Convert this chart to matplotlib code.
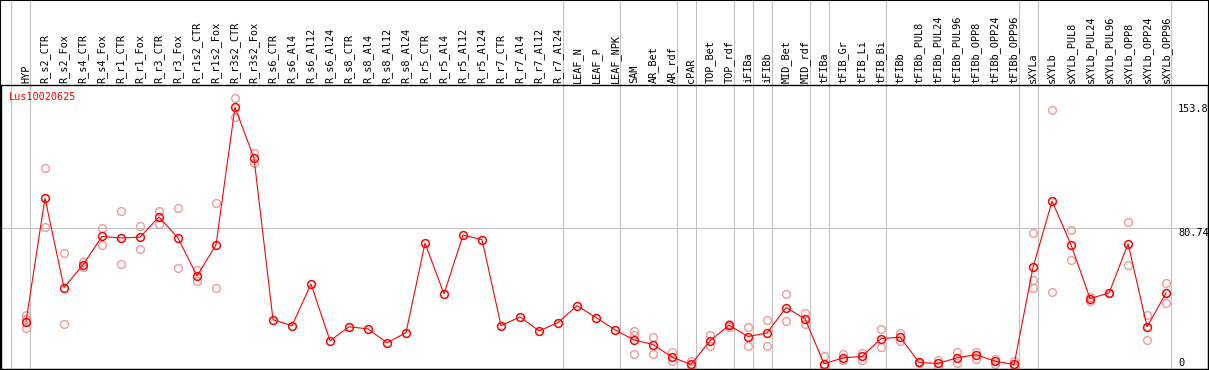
import matplotlib
matplotlib.use("Agg")
import matplotlib.pyplot as plt
from matplotlib.patches import Rectangle

# sample names (x axis, top)
samples = ["HYP", "R_s2_CTR", "R_s2_Fox", "R_s4_CTR", "R_s4_Fox", "R_r1_CTR", "R_r1_Fox",
           "R_r3_CTR", "R_r3_Fox", "R_r1s2_CTR", "R_r1s2_Fox", "R_r3s2_CTR", "R_r3s2_Fox",
           "R_s6_CTR", "R_s6_Al4", "R_s6_Al12", "R_s6_Al24", "R_s8_CTR", "R_s8_Al4",
           "R_s8_Al12", "R_s8_Al24", "R_r5_CTR", "R_r5_Al4", "R_r5_Al12", "R_r5_Al24",
           "R_r7_CTR", "R_r7_Al4", "R_r7_Al12", "R_r7_Al24", "LEAF_N", "LEAF_P", "LEAF_NPK",
           "SAM", "AR_Bet", "AR_rdf", "cPAR", "TOP_Bet", "TOP_rdf", "iFIBa", "iFIBb",
           "MID_Bet", "MID_rdf", "tFIBa", "tFIB_Gr", "tFIB_Li", "tFIB_Bi", "tFIBb",
           "tFIBb_PUL8", "tFIBb_PUL24", "tFIBb_PUL96", "tFIBb_OPP8", "tFIBb_OPP24",
           "tFIBb_OPP96", "sXYLa", "sXYLb", "sXYLb_PUL8", "sXYLb_PUL24", "sXYLb_PUL96",
           "sXYLb_OPP8", "sXYLb_OPP24", "sXYLb_OPP96"]

# mean expression per sample
means = [25.6, 98.2, 45.7, 59.0, 75.7, 74.8, 75.3, 87.1, 74.8, 52.5, 70.8, 151.5, 121.6,
         26.8, 23.4, 47.8, 14.5, 22.7, 21.5, 13.3, 19.3, 71.8, 42.0, 76.5, 73.8,
         23.4, 28.5, 20.3, 25.2, 35.1, 28.1, 20.9,
         15.0, 12.3, 4.9, 0.6, 14.5, 23.6, 17.0, 19.1, 34.0, 27.3,
         1.0, 4.5, 5.3, 15.8, 16.6, 1.8, 1.2, 4.5, 6.4, 2.5, 0.6,
         57.8, 96.4, 70.7, 39.2, 42.6, 71.4, 22.7, 42.6]

# individual replicates
reps = [[29.5, 27.5, 22.0], [115.7, 81.2], [66.0, 24.6], [61.0, 57.5], [80.6, 70.4],
        [90.7, 59.5], [82.0, 68.3], [90.7, 83.1], [92.3, 57.4], [55.8, 49.4],
        [95.3, 45.7], [156.7, 145.6], [124.5, 118.7],
        [], [], [], [], [], [], [], [], [], [], [], [], [], [], [], [], [], [], [],
        [20.5, 18.1, 6.8], [17.0, 6.8], [7.8, 2.9], [2.9, 0.0], [18.1, 11.5], [24.5, 22.5],
        [22.4, 11.5], [26.9, 11.5], [42.0, 26.2], [30.6, 24.4],
        [5.5, 0.0], [6.8, 3.3], [7.2, 3.3], [21.5, 10.9], [19.1, 14.5], [1.5, 2.0],
        [3.5, 0.0], [7.8, 1.6], [7.8, 4.1], [4.1, 1.0], [2.9, 0.0],
        [77.7, 49.9, 45.3], [149.7, 43.1], [79.4, 61.9], [40.4, 38.1], [42.6, 42.6],
        [84.1, 59.0], [29.9, 15.0], [48.4, 36.5]]

group_sizes = [1, 28, 3, 3, 1, 2, 1, 1, 2, 1, 3, 7, 1, 7]
ytick_vals = [0, 80.74, 153.8]
ytick_labels = ["0", "80.74", "153.8"]
gene = "Lus10020625"

W, H = 1209, 370
fig = plt.figure(figsize=(W / 100, H / 100), dpi=100)
ax = fig.add_axes([0.5 / W, 1.5 / H, 1207.5 / W, 283.5 / H])

x = list(range(len(samples)))
step = 19.01
ax.set_xlim((0.5 - 26) / step, (1208.5 - 26) / step)
ax.set_ylim(-3 / 1.708, (366 - 85) / 1.708)

# vertical separators between sample groups (run through header too)
bounds = [-1]
for g in group_sizes:
    bounds.append(bounds[-1] + g)
for b in bounds:
    ax.axvline(b + 4.5 / step, ymin=0, ymax=1.31, color="#c0c0c0", lw=0.75,
               clip_on=False, zorder=1)
ax.axhline(80.74, color="#c0c0c0", lw=0.75, zorder=1)

# replicates
rx, ry = [], []
for i, r in enumerate(reps):
    for v in r:
        rx.append(i)
        ry.append(v)
ax.plot(rx, ry, linestyle="none", marker="o", markersize=5.6, markerfacecolor="none",
        markeredgecolor="#f09a9a", markeredgewidth=1.0, zorder=2)

# mean line
ax.plot(x, means, color="red", lw=0.8, marker="o", markersize=5.6,
        markerfacecolor="none", markeredgecolor="red", markeredgewidth=1.1, zorder=3)

for s in ax.spines.values():
    s.set_color("black")
    s.set_linewidth(1.0)
ax.set_xticks([])
ax.set_yticks([])

font = dict(family="DejaVu Sans Mono", fontsize=7.4)

xt = ax.get_xaxis_transform()
for i, s in enumerate(samples):
    ax.text(i, 1 + 2.3 / 283.5, s, rotation=90, ha="center", va="bottom",
            transform=xt, clip_on=False, **font)

yt = ax.get_yaxis_transform()
for v, lab in zip(ytick_vals, ytick_labels):
    va = "top" if v > 0 else "baseline"
    ax.text((1178 - 0.5) / 1207.5, v - (0.5 / 1.708 if v > 0 else 0.0), lab,
            ha="left", va=va, transform=yt, **font)

fig.text(9 / W, 1 - 97 / H, gene, color="red", ha="left", va="center", **font)

fig.patches.append(Rectangle((0, 0), 1, 1, transform=fig.transFigure, fill=False,
                             edgecolor="black", lw=1.5))

fig.savefig("out.png", dpi=100)
